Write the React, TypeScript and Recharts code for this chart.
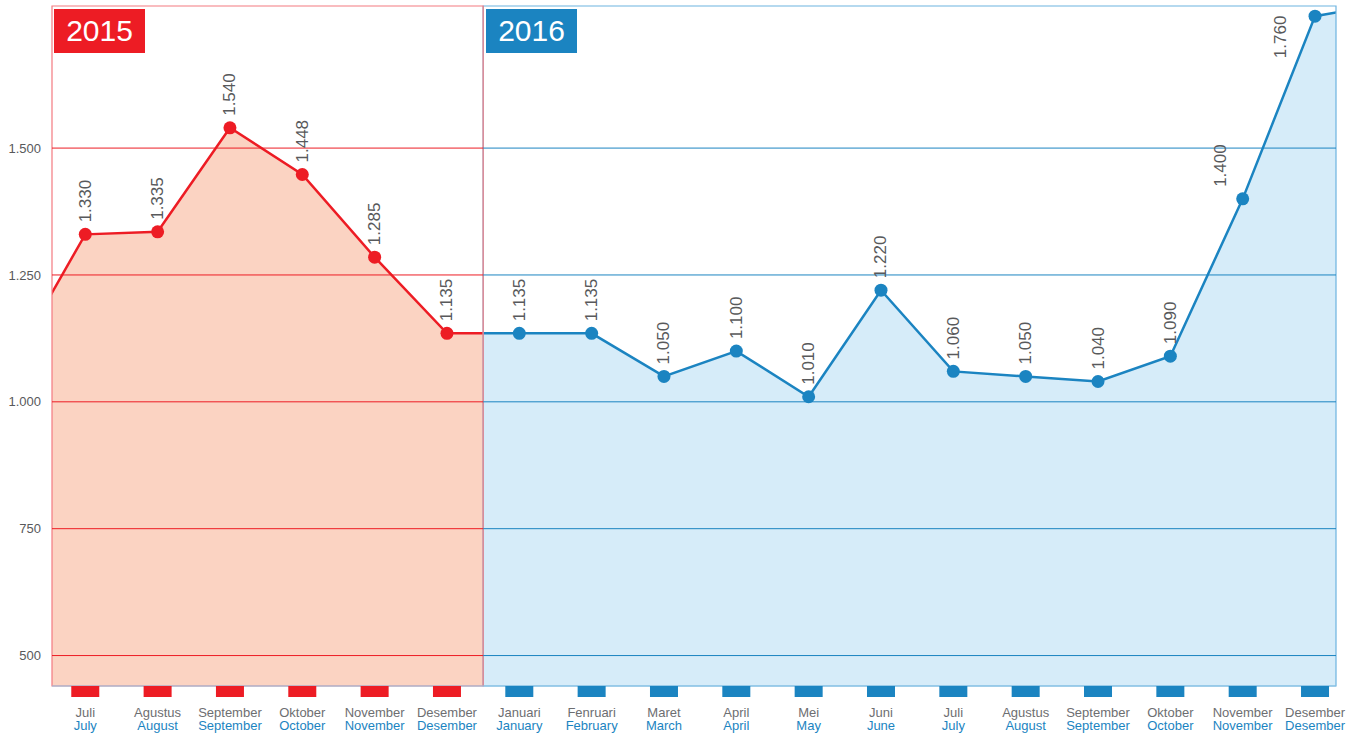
import React from 'react';
import {
  ComposedChart, Area, XAxis, YAxis, ReferenceLine, ReferenceArea, LabelList,
} from 'recharts';

const monthsId = ['Juli', 'Agustus', 'September', 'Oktober', 'November', 'Desember', 'Januari', 'Fenruari', 'Maret', 'April', 'Mei', 'Juni', 'Juli', 'Agustus', 'September', 'Oktober', 'November', 'Desember'];
const monthsEn = ['July', 'August', 'September', 'October', 'November', 'Desember', 'January', 'February', 'March', 'April', 'May', 'June', 'July', 'August', 'September', 'October', 'November', 'Desember'];
const values2015 = [1330, 1335, 1540, 1448, 1285, 1135];
const values2016 = [1135, 1135, 1050, 1100, 1010, 1220, 1060, 1050, 1040, 1090, 1400, 1760];
// line runs off the left / right edge of the plot: neighbouring months, estimated
const before2015 = 1080;
const after2016 = 1785;
const yTicks = [500, 750, 1000, 1250, 1500];
const xTicks = monthsId.map((_, i) => i);

const RED = '#ed1c24';
const RED_FILL = '#fbd3c2';
const BLUE = '#1b84c1';
const BLUE_FILL = '#d6ecf9';
const GREY = '#58595b';

const X_MIN = -0.46;
const X_MAX = 17.29;
const SPLIT = 5.5;
const Y_MIN = 440;
const Y_MAX = 1780;

const allValues = [...values2015, ...values2016];

const data: any[] = [];
data.push({ x: -1, red: before2015 });
values2015.forEach((v, i) => data.push({ x: i, red: v, redLabel: v }));
data.push({ x: SPLIT, red: values2015[values2015.length - 1], blue: values2016[0] });
values2016.forEach((v, i) => data.push({ x: i + values2015.length, blue: v, blueLabel: v }));
data.push({ x: 18, blue: after2016 });

const fmt = (v: number) =>
  v >= 1000 ? `${Math.floor(v / 1000)}.${String(v % 1000).padStart(3, '0')}` : String(v);

const dotFor = (key: string, color: string) => (p: any) => {
  if (p.payload == null || p.payload[key] == null) return <g key={`n-${key}-${p.index}`} />;
  return <circle key={`d-${key}-${p.index}`} cx={p.cx} cy={p.cy} r={6.5} fill={color} />;
};

// labels sit above the point; on a steep climb they move to the left of the line
const labelFor = (offset: number) => (p: any) => {
  if (p.value == null) return null;
  const i = p.index - offset;
  const prev = i > 0 ? allValues[i - 1] : null;
  const next = i + 1 < allValues.length ? allValues[i + 1] : null;
  let x = p.x;
  let y = p.y - 12;
  if (next == null && prev != null && p.value - prev > 200) {
    x -= 35;
    y = p.y + 42;
  } else if (next != null && prev != null && next - p.value > 200 && p.value - prev > 200) {
    x -= 22;
  }
  return (
    <text
      x={x}
      y={y}
      transform={`rotate(-90, ${x}, ${y})`}
      textAnchor="start"
      dominantBaseline="central"
      fontSize={17}
      fill={GREY}
    >
      {fmt(p.value)}
    </text>
  );
};

const MonthTick = (props: any) => {
  const { x, y, payload } = props;
  const i = payload.value;
  const color = i < values2015.length ? RED : BLUE;
  return (
    <g>
      <rect x={x - 14} y={y} width={28} height={11} fill={color} />
      <text x={x} y={y + 31} textAnchor="middle" fontSize={13} fill="#6d6e71">{monthsId[i]}</text>
      <text x={x} y={y + 44} textAnchor="middle" fontSize={13} fill={BLUE}>{monthsEn[i]}</text>
    </g>
  );
};

const yearBox = (left: number, bg: string, text: string) => (
  <div
    style={{
      position: 'absolute', left, top: 9, width: 91, height: 44, background: bg,
      color: '#fff', fontSize: 30, lineHeight: '44px', textAlign: 'center',
      fontFamily: '"Liberation Sans", Arial, sans-serif',
    }}
  >
    {text}
  </div>
);

export default function App() {
  return (
    <div style={{ position: 'absolute', left: 0, top: 0, width: 1356, height: 735, background: '#fff', fontFamily: '"Liberation Sans", Arial, sans-serif' }}>
      <ComposedChart width={1356} height={735} data={data} margin={{ top: 6, right: 20, bottom: 0, left: 0 }}>
        <XAxis
          type="number"
          dataKey="x"
          domain={[X_MIN, X_MAX]}
          ticks={xTicks}
          allowDataOverflow
          height={49}
          tickSize={0}
          tickMargin={0}
          axisLine={{ stroke: '#8cc4e6' }}
          tick={<MonthTick />}
          interval={0}
        />
        <YAxis
          type="number"
          domain={[Y_MIN, Y_MAX]}
          ticks={yTicks}
          allowDataOverflow
          width={52}
          tickSize={0}
          tickMargin={11}
          axisLine={false}
          tick={{ fontSize: 13, fill: GREY }}
          tickFormatter={fmt}
        />
        <Area
          type="linear"
          dataKey="red"
          stroke={RED}
          strokeWidth={2.5}
          fill={RED_FILL}
          fillOpacity={1}
          dot={dotFor('redLabel', RED)}
          activeDot={false}
          isAnimationActive={false}
        >
          <LabelList dataKey="redLabel" content={labelFor(1)} />
        </Area>
        <Area
          type="linear"
          dataKey="blue"
          stroke={BLUE}
          strokeWidth={2.5}
          fill={BLUE_FILL}
          fillOpacity={1}
          dot={dotFor('blueLabel', BLUE)}
          activeDot={false}
          isAnimationActive={false}
        >
          <LabelList dataKey="blueLabel" content={labelFor(2)} />
        </Area>
        {yTicks.map((t) => (
          <ReferenceLine key={`r${t}`} segment={[{ x: X_MIN, y: t }, { x: SPLIT, y: t }]} stroke={RED} strokeWidth={1} />
        ))}
        {yTicks.map((t) => (
          <ReferenceLine key={`b${t}`} segment={[{ x: SPLIT, y: t }, { x: X_MAX, y: t }]} stroke={BLUE} strokeWidth={1} />
        ))}
        <ReferenceArea x1={SPLIT} x2={X_MAX} y1={Y_MIN} y2={Y_MAX} fill="none" stroke="#6db3df" strokeWidth={1.2} />
        <ReferenceArea x1={X_MIN} x2={SPLIT} y1={Y_MIN} y2={Y_MAX} fill="none" stroke="#f37a80" strokeWidth={1.2} />
      </ComposedChart>
      {yearBox(54, RED, '2015')}
      {yearBox(486, BLUE, '2016')}
    </div>
  );
}
